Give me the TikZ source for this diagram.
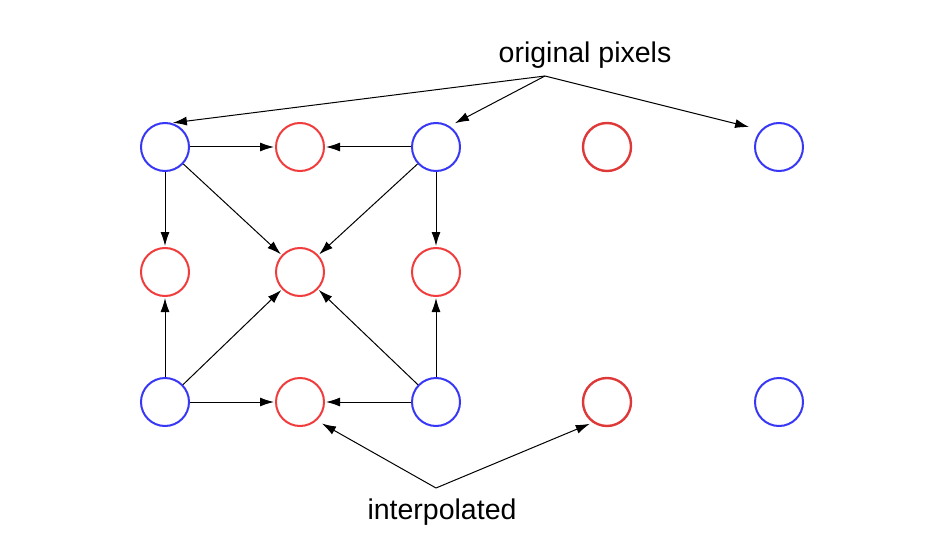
\documentclass[tikz,border=0pt]{standalone}
\usepackage{fontspec}
\setmainfont{Liberation Sans}
\usepackage{tikz}
\usetikzlibrary{arrows.meta}

\definecolor{origblue}{RGB}{55,55,245}
\definecolor{interred}{RGB}{240,60,60}

\begin{document}
\begin{tikzpicture}[x=1pt,y=-1pt,
    pix/.style={circle,draw,line width=2pt,minimum size=48pt,inner sep=0pt},
    orig/.style={pix,draw=origblue},
    inter/.style={pix,draw=interred},
    inter2/.style={pix,draw=interred!93!black,line width=2.4pt},
    lbl/.style={font=\fontsize{28.5}{33}\selectfont},
    arr/.style={-{Latex[length=14pt,width=9pt]},line width=1pt,shorten >=1pt}]
  \useasboundingbox (0,0) rectangle (933,540);
  % grid of pixels
  \node[orig]   (o11) at (165,147) {};
  \node[inter]  (i12) at (300,147) {};
  \node[orig]   (o13) at (436,147) {};
  \node[inter2] (i14) at (607,147) {};
  \node[orig]   (o15) at (779,147) {};
  \node[inter]  (i21) at (165,272) {};
  \node[inter]  (i22) at (300,272) {};
  \node[inter]  (i23) at (436,272) {};
  \node[orig]   (o31) at (165,402) {};
  \node[inter]  (i32) at (300,402) {};
  \node[orig]   (o33) at (436,402) {};
  \node[inter2] (i34) at (607,402) {};
  \node[orig]   (o35) at (779,402) {};
  % labels
  \node[lbl] (origtxt)  at (585,55)  {original pixels};
  \node[lbl] (intertxt) at (442,512) {interpolated};
  \coordinate (op) at (545,76);
  \coordinate (ip) at (436,488);
  % interpolation arrows
  \foreach \a/\b in {o11/i12,o13/i12,o11/i21,o11/i22,o13/i22,o13/i23,
                     o31/i21,o31/i22,o33/i22,o33/i23,o31/i32,o33/i32}
    \draw[arr] (\a) -- (\b);
  % label arrows (node/anchor angle/gap)
  \foreach \b/\ang/\gap in {o11/74/1,o13/57/6,o15/137/12}
    \draw[arr,shorten >=\gap pt] (op) -- (\b.\ang);
  \foreach \b/\ang/\gap in {i32/-48/6,i34/-125/3}
    \draw[arr,shorten >=\gap pt] (ip) -- (\b.\ang);
\end{tikzpicture}
\end{document}
